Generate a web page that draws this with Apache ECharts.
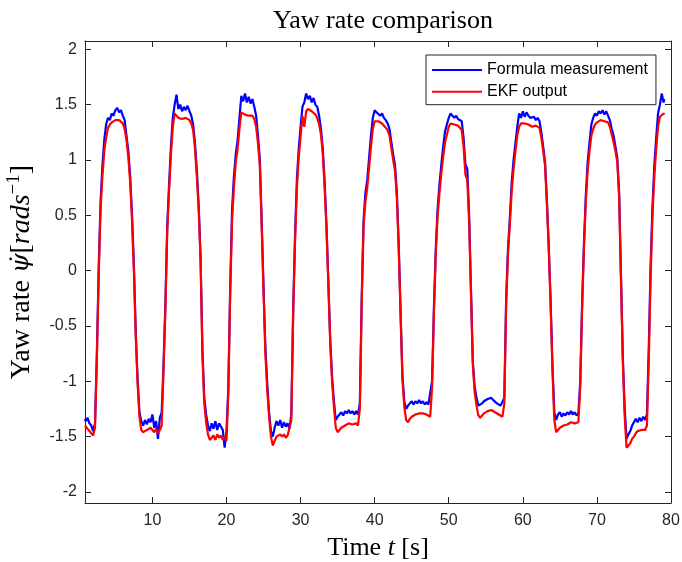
<!DOCTYPE html>
<html>
<head>
<meta charset="utf-8">
<script src="https://cdn.jsdelivr.net/npm/echarts@6/dist/echarts.min.js"></script>
<style>html,body{margin:0;padding:0;background:#fff}#c{width:682px;height:562px}</style>
</head>
<body>
<div id="c"></div>
<script>
const time = [0.9,1.0,1.25,1.5,1.75,2.0,2.25,2.5,2.75,3.0,3.25,3.5,3.75,4.0,4.25,4.5,4.75,5.0,5.25,5.5,5.75,6.0,6.25,6.5,6.75,7.0,7.25,7.5,7.75,8.0,8.25,8.5,8.75,9.0,9.25,9.5,9.75,10.0,10.25,10.5,10.75,11.0,11.25,11.5,11.75,12.0,12.25,12.5,12.75,13.0,13.25,13.5,13.75,14.0,14.25,14.5,14.75,15.0,15.25,15.5,15.75,16.0,16.25,16.5,16.75,17.0,17.25,17.5,17.75,18.0,18.25,18.5,18.75,19.0,19.25,19.5,19.75,20.0,20.25,20.5,20.75,21.0,21.25,21.5,21.75,22.0,22.25,22.5,22.75,23.0,23.25,23.5,23.75,24.0,24.25,24.5,24.75,25.0,25.25,25.5,25.75,26.0,26.25,26.5,26.75,27.0,27.25,27.5,27.75,28.0,28.25,28.5,28.75,29.0,29.25,29.5,29.75,30.0,30.25,30.5,30.75,31.0,31.25,31.5,31.75,32.0,32.25,32.5,32.75,33.0,33.25,33.5,33.75,34.0,34.25,34.5,34.75,35.0,35.25,35.5,35.75,36.0,36.25,36.5,36.75,37.0,37.25,37.5,37.75,38.0,38.25,38.5,38.75,39.0,39.25,39.5,39.75,40.0,40.25,40.5,40.75,41.0,41.25,41.5,41.75,42.0,42.25,42.5,42.75,43.0,43.25,43.5,43.75,44.0,44.25,44.5,44.75,45.0,45.25,45.5,45.75,46.0,46.25,46.5,46.75,47.0,47.25,47.5,47.75,48.0,48.25,48.5,48.75,49.0,49.25,49.5,49.75,50.0,50.25,50.5,50.75,51.0,51.25,51.5,51.75,52.0,52.25,52.5,52.75,53.0,53.25,53.5,53.75,54.0,54.25,54.5,54.75,55.0,55.25,55.5,55.75,56.0,56.25,56.5,56.75,57.0,57.25,57.5,57.75,58.0,58.25,58.5,58.75,59.0,59.25,59.5,59.75,60.0,60.25,60.5,60.75,61.0,61.25,61.5,61.75,62.0,62.25,62.5,62.75,63.0,63.25,63.5,63.75,64.0,64.25,64.5,64.75,65.0,65.25,65.5,65.75,66.0,66.25,66.5,66.75,67.0,67.25,67.5,67.75,68.0,68.25,68.5,68.75,69.0,69.25,69.5,69.75,70.0,70.25,70.5,70.75,71.0,71.25,71.5,71.75,72.0,72.25,72.5,72.75,73.0,73.25,73.5,73.75,74.0,74.25,74.5,74.75,75.0,75.25,75.5,75.75,76.0,76.25,76.5,76.75,77.0,77.25,77.5,77.75,78.0,78.25,78.5,78.75,79.0,79.1];

const formula = [-1.34,-1.36,-1.33,-1.38,-1.40,-1.45,-1.38,-0.75,0.02,0.62,0.95,1.18,1.32,1.38,1.36,1.42,1.40,1.45,1.47,1.43,1.45,1.40,1.36,1.22,1.08,0.85,0.50,0.05,-0.55,-0.98,-1.28,-1.36,-1.40,-1.35,-1.39,-1.34,-1.37,-1.30,-1.42,-1.36,-1.52,-1.33,-1.28,-0.85,-0.30,0.40,0.78,1.12,1.38,1.50,1.59,1.46,1.50,1.44,1.48,1.45,1.49,1.44,1.40,1.32,1.15,0.90,0.58,0.12,-0.72,-1.15,-1.30,-1.40,-1.45,-1.38,-1.43,-1.36,-1.44,-1.38,-1.41,-1.44,-1.60,-1.45,-1.05,-0.15,0.55,0.85,1.05,1.18,1.38,1.58,1.53,1.60,1.52,1.57,1.51,1.55,1.48,1.40,1.22,1.00,0.45,-0.15,-0.70,-1.02,-1.28,-1.45,-1.50,-1.42,-1.36,-1.40,-1.35,-1.42,-1.37,-1.41,-1.38,-1.43,-1.30,-0.35,0.32,0.82,1.10,1.30,1.48,1.52,1.60,1.55,1.58,1.52,1.56,1.50,1.48,1.40,1.28,1.10,0.80,0.40,-0.10,-0.62,-0.96,-1.18,-1.35,-1.32,-1.30,-1.28,-1.31,-1.27,-1.29,-1.26,-1.29,-1.27,-1.30,-1.27,-1.30,-1.20,-0.25,0.45,0.70,0.82,1.02,1.22,1.38,1.45,1.43,1.44,1.40,1.42,1.38,1.36,1.33,1.28,1.16,1.05,0.95,0.70,0.22,-0.38,-0.95,-1.18,-1.25,-1.22,-1.20,-1.18,-1.21,-1.18,-1.20,-1.17,-1.20,-1.18,-1.21,-1.19,-1.21,-1.22,-1.00,-0.33,0.20,0.56,0.78,0.96,1.12,1.26,1.32,1.38,1.42,1.40,1.38,1.40,1.37,1.38,1.35,1.20,0.96,0.92,0.50,-0.17,-0.82,-1.05,-1.15,-1.22,-1.21,-1.20,-1.18,-1.19,-1.16,-1.17,-1.15,-1.17,-1.18,-1.20,-1.21,-1.22,-1.21,-1.15,-0.25,0.20,0.48,0.80,1.00,1.15,1.30,1.42,1.38,1.44,1.39,1.43,1.40,1.38,1.37,1.39,1.36,1.38,1.35,1.25,1.12,0.98,0.63,0.22,-0.28,-0.85,-1.28,-1.35,-1.30,-1.28,-1.32,-1.29,-1.31,-1.28,-1.30,-1.27,-1.30,-1.28,-1.31,-1.29,-1.00,-0.30,0.25,0.68,0.98,1.16,1.32,1.38,1.42,1.40,1.44,1.42,1.45,1.41,1.44,1.40,1.36,1.28,1.22,1.12,1.02,0.70,-0.05,-0.78,-1.25,-1.52,-1.48,-1.45,-1.40,-1.41,-1.34,-1.37,-1.33,-1.36,-1.32,-1.35,-1.30,-0.70,0.05,0.58,0.95,1.20,1.42,1.50,1.60,1.52,1.55];

const ekf = [-1.40,-1.41,-1.43,-1.44,-1.47,-1.49,-1.42,-0.80,-0.05,0.55,0.85,1.08,1.20,1.29,1.32,1.34,1.35,1.36,1.37,1.36,1.35,1.33,1.28,1.18,1.02,0.80,0.45,0.00,-0.60,-1.02,-1.32,-1.44,-1.46,-1.45,-1.44,-1.45,-1.42,-1.44,-1.46,-1.43,-1.47,-1.44,-1.40,-0.90,-0.35,0.35,0.72,1.05,1.30,1.42,1.40,1.38,1.38,1.37,1.37,1.38,1.37,1.36,1.33,1.27,1.10,0.85,0.55,0.10,-0.75,-1.20,-1.37,-1.48,-1.53,-1.51,-1.49,-1.53,-1.48,-1.51,-1.49,-1.53,-1.50,-1.54,-1.10,-0.20,0.45,0.75,0.98,1.10,1.28,1.43,1.42,1.41,1.42,1.40,1.41,1.40,1.37,1.30,1.15,0.95,0.40,-0.20,-0.75,-1.08,-1.32,-1.50,-1.58,-1.54,-1.50,-1.51,-1.48,-1.50,-1.48,-1.51,-1.49,-1.50,-1.35,-0.40,0.25,0.75,1.02,1.21,1.40,1.30,1.44,1.46,1.45,1.44,1.43,1.41,1.38,1.32,1.23,1.05,0.75,0.37,-0.13,-0.65,-1.00,-1.23,-1.42,-1.46,-1.44,-1.42,-1.41,-1.40,-1.39,-1.38,-1.39,-1.39,-1.38,-1.38,-1.40,-1.25,-0.30,0.40,0.62,0.75,0.93,1.12,1.28,1.35,1.36,1.35,1.34,1.33,1.32,1.29,1.27,1.22,1.11,1.00,0.90,0.65,0.20,-0.40,-0.98,-1.23,-1.35,-1.37,-1.34,-1.32,-1.31,-1.30,-1.29,-1.29,-1.29,-1.29,-1.30,-1.30,-1.31,-1.32,-1.05,-0.38,0.15,0.50,0.70,0.88,1.03,1.16,1.23,1.30,1.33,1.32,1.32,1.31,1.31,1.30,1.27,1.12,0.87,0.82,0.45,-0.20,-0.85,-1.10,-1.22,-1.31,-1.33,-1.31,-1.29,-1.28,-1.27,-1.26,-1.26,-1.27,-1.28,-1.29,-1.30,-1.31,-1.32,-1.20,-0.30,0.15,0.42,0.72,0.92,1.08,1.22,1.30,1.33,1.33,1.33,1.32,1.32,1.31,1.30,1.30,1.31,1.30,1.29,1.20,1.08,0.95,0.60,0.20,-0.30,-0.90,-1.35,-1.46,-1.44,-1.42,-1.42,-1.40,-1.39,-1.39,-1.38,-1.37,-1.38,-1.38,-1.37,-1.37,-1.05,-0.35,0.20,0.62,0.90,1.08,1.22,1.28,1.32,1.34,1.35,1.36,1.36,1.35,1.35,1.34,1.30,1.23,1.16,1.08,0.98,0.67,-0.08,-0.83,-1.32,-1.60,-1.58,-1.56,-1.52,-1.50,-1.47,-1.45,-1.44,-1.44,-1.43,-1.44,-1.40,-0.80,-0.05,0.50,0.85,1.10,1.30,1.39,1.40,1.42,1.41];

const xTicks = [10,20,30,40,50,60,70,80];
const yTicks = [-2,-1.5,-1,-0.5,0,0.5,1,1.5,2];
const seriesNames = ['Formula measurement','EKF output'];

const axisColor = '#262626';
const sans = 'Liberation Sans, Arial, Helvetica, sans-serif';
const serif = 'Liberation Serif, Times New Roman, serif';
const bigFont = 26;
const yFont = 28;

function xAx(pos, show) {
  return {
    type: 'value', position: pos, min: 0.9, max: 80,
    axisLine: {show: true, onZero: false, lineStyle: {color: axisColor, width: 1}},
    axisTick: {show: true, inside: true, length: 6, customValues: xTicks, lineStyle: {color: axisColor}},
    axisLabel: {show: show, customValues: xTicks, fontSize: 16, color: axisColor, fontFamily: sans, margin: 10},
    splitLine: {show: false}
  };
}
function yAx(pos, show) {
  return {
    type: 'value', position: pos, min: -2.1, max: 2.075,
    axisLine: {show: true, onZero: false, lineStyle: {color: axisColor, width: 1}},
    axisTick: {show: true, inside: true, length: 6, customValues: yTicks, lineStyle: {color: axisColor}},
    axisLabel: {show: show, customValues: yTicks, fontSize: 16, color: axisColor, fontFamily: sans, margin: 8},
    splitLine: {show: false}
  };
}

const xMain = xAx('bottom', true);
xMain.name = 'Time {i|t} [s]';
xMain.nameLocation = 'middle';
xMain.nameGap = 32;
xMain.nameTextStyle = {fontFamily: serif, fontSize: bigFont, color: '#000',
  rich: {i: {fontFamily: serif, fontStyle: 'italic', fontSize: bigFont, color: '#000'}}};

const yMain = yAx('left', true);
yMain.name = 'Yaw rate {g|ψ̇}[{i|rads}{sup|−1}]';
yMain.nameLocation = 'middle';
yMain.nameRotate = 90;
yMain.nameGap = 40;
yMain.nameTextStyle = {fontFamily: serif, fontSize: yFont, color: '#000', lineHeight: 34,
  rich: {
    g: {fontFamily: 'DejaVu Serif', fontStyle: 'italic', fontSize: 25, color: '#000', lineHeight: 34},
    i: {fontFamily: serif, fontStyle: 'italic', fontSize: yFont, color: '#000', lineHeight: 34},
    sup: {fontFamily: serif, fontStyle: 'normal', fontSize: 19, color: '#000', verticalAlign: 'top', lineHeight: 34}
  }};

const chart = echarts.init(document.getElementById('c'), null, {renderer: 'canvas'});
chart.setOption({
  animation: false,
  backgroundColor: '#fff',
  title: {
    text: 'Yaw rate comparison', left: 378, top: 3, textAlign: 'center',
    textStyle: {fontFamily: serif, fontSize: bigFont, fontWeight: 'normal', color: '#000'}
  },
  grid: {left: 85, right: 11, top: 41, bottom: 59, containLabel: false, outerBoundsMode: 'none'},
  legend: {
    data: seriesNames, orient: 'vertical', left: 426, top: 55,
    icon: 'rect', itemWidth: 50, itemHeight: 2, itemGap: 5.7,
    padding: [7, 8, 5, 6], borderColor: axisColor, borderWidth: 1, backgroundColor: '#fff',
    textStyle: {fontSize: 16, lineHeight: 16, fontFamily: sans, color: '#000'}
  },
  xAxis: [xMain, xAx('top', false)],
  yAxis: [yMain, yAx('right', false)],
  series: [
    {name: seriesNames[0], type: 'line', symbol: 'none', xAxisIndex: 0, yAxisIndex: 0,
     data: time.map((t, i) => [t, formula[i]]),
     lineStyle: {color: '#0000ff', width: 2.2}, itemStyle: {color: '#0000ff'}},
    {name: seriesNames[1], type: 'line', symbol: 'none', xAxisIndex: 0, yAxisIndex: 0,
     data: time.map((t, i) => [t, ekf[i]]),
     lineStyle: {color: '#ff0000', width: 2.2}, itemStyle: {color: '#ff0000'}}
  ]
});
</script>
</body>
</html>
